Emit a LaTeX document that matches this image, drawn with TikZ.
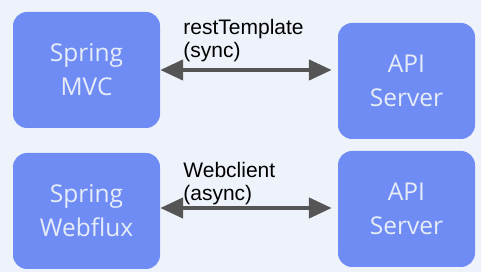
\documentclass[tikz,border=0pt]{standalone}
\usepackage{fontspec}
\setmainfont{Liberation Sans}
\newfontfamily\boxfont{Open Sans}
\usepackage{tikz}
\usetikzlibrary{arrows.meta,positioning}

\definecolor{bgcol}{HTML}{EEF3FB}
\definecolor{boxcol}{HTML}{6F8CF5}
\definecolor{boxtext}{HTML}{E6ECF8}
\definecolor{arrowcol}{HTML}{555555}

\begin{document}
\begin{tikzpicture}[x=1pt,y=1pt,
	appbox/.style={fill=boxcol,rounded corners=14pt,minimum width=147pt,minimum height=116pt,
		text=boxtext,font=\boxfont\fontsize{24.5}{34}\selectfont,align=center,inner sep=0pt},
	apibox/.style={appbox,minimum width=137pt},
	callarrow/.style={{Triangle[length=23pt,width=20pt]}-{Triangle[length=23pt,width=20pt]},
		line width=4.5pt,draw=arrowcol,shorten >=6pt},
	calllabel/.style={font=\fontsize{21}{23}\selectfont,align=left,inner sep=0pt,anchor=south west}]
	% Background
	\fill[bgcol] (0,0) rectangle (481,272);
	\useasboundingbox (0,0) rectangle (481,272);
	
	% Boxes
	\node[appbox] (mvc) at (86.5,202) {Spring\\MVC};
	\node[apibox] (apitop) at (406.5,191) {API\\Server};
	\node[appbox] (flux) at (86.5,61) {Spring\\Webflux};
	\node[apibox] (apibot) at (406.5,63) {API\\Server};
	
	% Arrows between the boxes
	\draw[callarrow] (mvc.east) -- (mvc.east -| apitop.west);
	\coordinate (fluxout) at ([yshift=3pt]flux.east);
	\draw[callarrow] (fluxout) -- (fluxout -| apibot.west);
	
	% Labels
	\node[calllabel] (resttpl) at ([xshift=23pt,yshift=7.5pt]mvc.east) {restTemplate\\(sync)};
	\node[calllabel] (webcl) at ([xshift=23pt,yshift=2.5pt]fluxout) {Webclient\\(async)};
\end{tikzpicture}
\end{document}
